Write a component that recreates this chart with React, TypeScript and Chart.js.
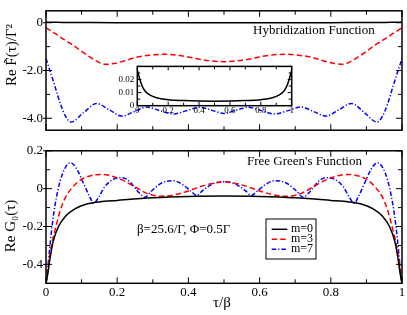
import React, { useEffect, useRef } from "react";
import { Chart, registerables } from "chart.js";

Chart.register(...registerables);

// ---------------- data ----------------
// Hybridization function, m = 0 (also shown magnified in the inset)
const hybTauM0 = [0, 0.005, 0.013, 0.028, 0.05, 0.08, 0.125, 0.2, 0.3, 0.4, 0.5, 0.6, 0.7, 0.8, 0.875, 0.92, 0.95, 0.972, 0.987, 0.995, 1];
const hybReM0 = [0.027, 0.025, 0.0215, 0.016, 0.0112, 0.0082, 0.006, 0.0046, 0.0039, 0.0035, 0.0034, 0.0035, 0.0039, 0.0046, 0.006, 0.0082, 0.0112, 0.016, 0.0215, 0.025, 0.027];

// Hybridization function, m = 3
const hybTauM3 = [0, 0.025, 0.05, 0.075, 0.1, 0.125, 0.145, 0.165, 0.19, 0.22, 0.25, 0.29, 0.33, 0.38, 0.44, 0.5, 0.56, 0.62, 0.67, 0.71, 0.75, 0.78, 0.81, 0.835, 0.855, 0.875, 0.9, 0.925, 0.95, 0.975, 1];
const hybReM3 = [-0.21, -0.45, -0.7, -0.93, -1.2, -1.45, -1.63, -1.74, -1.71, -1.6, -1.46, -1.36, -1.32, -1.38, -1.55, -1.63, -1.55, -1.38, -1.32, -1.36, -1.46, -1.6, -1.71, -1.74, -1.63, -1.45, -1.2, -0.93, -0.7, -0.45, -0.21];

// Hybridization function, m = 7
const hybTauM7 = [0, 0.012, 0.025, 0.04, 0.055, 0.07, 0.106, 0.142, 0.178, 0.213, 0.248, 0.283, 0.32, 0.358, 0.395, 0.433, 0.467, 0.5, 0.533, 0.567, 0.605, 0.642, 0.68, 0.717, 0.752, 0.787, 0.822, 0.858, 0.894, 0.93, 0.945, 0.96, 0.975, 0.988, 1];
const hybReM7 = [-1.5, -2.05, -2.65, -3.38, -3.92, -4.16, -3.76, -3.38, -3.65, -3.91, -3.72, -3.53, -3.68, -3.82, -3.68, -3.54, -3.67, -3.8, -3.67, -3.54, -3.68, -3.82, -3.68, -3.53, -3.72, -3.91, -3.65, -3.38, -3.76, -4.16, -3.92, -3.38, -2.65, -2.05, -1.5];

// Free Green's function, m = 0
const g0TauM0 = [0, 0.005, 0.012, 0.02, 0.035, 0.055, 0.08, 0.11, 0.15, 0.2, 0.3, 0.4, 0.5, 0.6, 0.7, 0.8, 0.85, 0.89, 0.92, 0.945, 0.965, 0.98, 0.988, 0.995, 1];
const g0ReM0 = [-0.5, -0.45, -0.36, -0.28, -0.2, -0.145, -0.108, -0.084, -0.07, -0.062, -0.048, -0.041, -0.039, -0.041, -0.048, -0.062, -0.07, -0.084, -0.108, -0.145, -0.2, -0.28, -0.36, -0.45, -0.5];

// Free Green's function, m = 3
const g0TauM3 = [0, 0.004, 0.009, 0.017, 0.028, 0.04, 0.055, 0.075, 0.1, 0.128, 0.155, 0.185, 0.215, 0.245, 0.28, 0.32, 0.36, 0.4, 0.45, 0.5, 0.55, 0.6, 0.64, 0.68, 0.72, 0.755, 0.785, 0.815, 0.845, 0.872, 0.9, 0.925, 0.945, 0.96, 0.972, 0.983, 0.991, 0.996, 1];
const g0ReM3 = [-0.5, -0.45, -0.37, -0.285, -0.2, -0.115, -0.045, 0.008, 0.05, 0.07, 0.075, 0.066, 0.045, 0.015, -0.022, -0.04, -0.033, -0.012, 0.02, 0.036, 0.02, -0.012, -0.033, -0.04, -0.022, 0.015, 0.045, 0.066, 0.075, 0.07, 0.05, 0.008, -0.045, -0.115, -0.2, -0.285, -0.37, -0.45, -0.5];

// Free Green's function, m = 7
const g0TauM7 = [0, 0.004, 0.009, 0.017, 0.026, 0.04, 0.054, 0.069, 0.087, 0.106, 0.122, 0.134, 0.148, 0.165, 0.19, 0.213, 0.235, 0.258, 0.278, 0.295, 0.325, 0.358, 0.385, 0.408, 0.423, 0.44, 0.47, 0.5, 0.53, 0.56, 0.577, 0.592, 0.615, 0.642, 0.675, 0.705, 0.722, 0.742, 0.765, 0.787, 0.81, 0.835, 0.852, 0.866, 0.878, 0.894, 0.913, 0.931, 0.946, 0.96, 0.974, 0.983, 0.991, 0.996, 1];
const g0ReM7 = [-0.5, -0.44, -0.34, -0.2, -0.08, 0.042, 0.11, 0.137, 0.102, 0.025, -0.04, -0.077, -0.045, 0.01, 0.05, 0.058, 0.038, -0.015, -0.045, -0.015, 0.03, 0.042, 0.02, -0.015, -0.036, -0.01, 0.026, 0.036, 0.026, -0.01, -0.036, -0.015, 0.02, 0.042, 0.03, -0.015, -0.045, -0.015, 0.038, 0.058, 0.05, 0.01, -0.045, -0.077, -0.04, 0.025, 0.102, 0.137, 0.11, 0.042, -0.08, -0.2, -0.34, -0.44, -0.5];

const seriesLabels = ["m=0", "m=3", "m=7"];

// ticks
const xTickValues = [0, 0.1, 0.2, 0.3, 0.4, 0.5, 0.6, 0.7, 0.8, 0.9, 1];
const xLabelValues = [0, 0.2, 0.4, 0.6, 0.8, 1];
const xLabelTexts = ["0", "0.2", "0.4", "0.6", "0.8", "1"];
const hybYTickValues = [-4, -3, -2, -1, 0];
const hybYLabelValues = [0, -2, -4];
const hybYLabelTexts = ["0", "-2.0", "-4.0"];
const g0YTickValues = [-0.4, -0.3, -0.2, -0.1, 0, 0.1, 0.2];
const g0YLabelValues = [0.2, 0, -0.2, -0.4];
const g0YLabelTexts = ["0.2", "0", "-0.2", "-0.4"];
const insetYTickValues = [0, 0.005, 0.01, 0.015, 0.02, 0.025, 0.03];
const insetYLabelValues = [0, 0.01, 0.02];
const insetYLabelTexts = ["0", "0.01", "0.02"];

// ---------------- helpers ----------------
const FONT = "'Liberation Serif', 'DejaVu Serif', serif";
Chart.defaults.font.family = FONT;
Chart.defaults.color = "#000";

const pts = (xs: number[], ys: number[]) => xs.map((x, i) => ({ x, y: ys[i] }));
const near = (a: number, b: number) => Math.abs(a - b) < 1e-9;
const labelFor = (vals: number[], texts: string[]) => (v: any) => {
  const i = vals.findIndex((a) => near(a, Number(v)));
  return i >= 0 ? texts[i] : "";
};

const RED_DASH = [5.5, 3];
const BLUE_DASH = [4.5, 2, 1.2, 2];

function lineDs(label: string, data: { x: number; y: number }[], color: string, dash: number[]) {
  return {
    label,
    data,
    borderColor: color,
    backgroundColor: color,
    borderWidth: 1.5,
    borderDash: dash,
    pointRadius: 0,
    fill: false,
    cubicInterpolationMode: "monotone" as const,
  };
}

const framePlugin = {
  id: "frame",
  beforeDatasetsDraw(chart: any, _a: any, opts: any) {
    if (!opts || !opts.whiteBg) return;
    const { ctx, chartArea: a } = chart;
    ctx.save();
    ctx.fillStyle = "#fff";
    ctx.fillRect(a.left, a.top, a.right - a.left, a.bottom - a.top);
    ctx.restore();
  },
  afterDatasetsDraw(chart: any, _a: any, opts: any) {
    if (!opts || !opts.enabled) return;
    const { ctx, chartArea: a } = chart;
    const xs = chart.scales.x;
    const ys = chart.scales.y;
    ctx.save();
    ctx.strokeStyle = "#000";
    ctx.lineWidth = opts.tickWidth;
    ctx.setLineDash([]);
    ctx.beginPath();
    xs.ticks.forEach((t: any) => {
      const p = xs.getPixelForValue(t.value);
      const major = opts.xMajor.some((v: number) => near(v, t.value));
      const len = major ? opts.majorLen : opts.minorLen;
      ctx.moveTo(p, a.bottom);
      ctx.lineTo(p, a.bottom - len);
      ctx.moveTo(p, a.top);
      ctx.lineTo(p, a.top + len);
    });
    ys.ticks.forEach((t: any) => {
      const p = ys.getPixelForValue(t.value);
      const major = opts.yMajor.some((v: number) => near(v, t.value));
      const len = major ? opts.majorLen : opts.minorLen;
      ctx.moveTo(a.left - (major ? opts.outLen : 0), p);
      ctx.lineTo(a.left + len, p);
      ctx.moveTo(a.right, p);
      ctx.lineTo(a.right - len, p);
    });
    ctx.stroke();
    ctx.lineWidth = opts.borderWidth;
    ctx.strokeRect(a.left, a.top, a.right - a.left, a.bottom - a.top);

    // free texts
    (opts.texts || []).forEach((t: any) => {
      ctx.save();
      ctx.font = t.font;
      ctx.fillStyle = "#000";
      ctx.textAlign = t.align || "left";
      ctx.textBaseline = "middle";
      ctx.translate(t.x, t.y);
      if (t.rotate) ctx.rotate(-Math.PI / 2);
      ctx.fillText(t.text, 0, 0);
      ctx.restore();
    });

    // legend
    const lg = opts.legend;
    if (lg) {
      ctx.lineWidth = 1;
      ctx.strokeStyle = "#000";
      ctx.strokeRect(lg.x, lg.y, lg.w, lg.h);
      chart.data.datasets.forEach((ds: any, i: number) => {
        const y = lg.y + lg.firstRow + i * lg.rowH;
        ctx.save();
        ctx.strokeStyle = ds.borderColor;
        ctx.lineWidth = ds.borderWidth;
        ctx.setLineDash(ds.borderDash || []);
        ctx.beginPath();
        ctx.moveTo(lg.x + lg.lineX0, y);
        ctx.lineTo(lg.x + lg.lineX1, y);
        ctx.stroke();
        ctx.restore();
        ctx.font = lg.font;
        ctx.fillStyle = "#000";
        ctx.textAlign = "left";
        ctx.textBaseline = "middle";
        ctx.fillText(ds.label, lg.x + lg.textX, y);
      });
    }
    ctx.restore();
  },
};

function xScale(showLabels: boolean, size: number, padding: number, height: number) {
  return {
    type: "linear" as const,
    min: 0,
    max: 1,
    afterBuildTicks: (s: any) => {
      s.ticks = xTickValues.map((v) => ({ value: v }));
    },
    afterFit: (s: any) => {
      s.height = height;
    },
    grid: { display: false, drawTicks: false },
    border: { display: false },
    ticks: {
      display: showLabels,
      autoSkip: false,
      maxRotation: 0,
      padding,
      color: "#000",
      font: { size, family: FONT },
      callback: labelFor(xLabelValues, xLabelTexts),
    },
  };
}

function yScale(min: number, max: number, tickVals: number[], labVals: number[], labTexts: string[], size: number, padding: number, width: number) {
  return {
    type: "linear" as const,
    min,
    max,
    afterBuildTicks: (s: any) => {
      s.ticks = tickVals.map((v) => ({ value: v }));
    },
    afterFit: (s: any) => {
      s.width = width;
    },
    grid: { display: false, drawTicks: false },
    border: { display: false },
    ticks: {
      autoSkip: false,
      padding,
      color: "#000",
      font: { size, family: FONT },
      callback: labelFor(labVals, labTexts),
    },
  };
}

const baseOpts = {
  responsive: false,
  maintainAspectRatio: false,
  animation: false as const,
  devicePixelRatio: 1,
  events: [] as any[],
};

export default function App() {
  const topRef = useRef<HTMLCanvasElement>(null);
  const botRef = useRef<HTMLCanvasElement>(null);
  const insRef = useRef<HTMLCanvasElement>(null);

  useEffect(() => {
    document.body.style.margin = "0";
    const charts: Chart[] = [];

    // ---------- top panel: hybridization function ----------
    charts.push(
      new Chart(topRef.current as HTMLCanvasElement, {
        type: "line",
        data: {
          datasets: [
            lineDs(seriesLabels[0], pts(hybTauM0, hybReM0), "#000000", []),
            lineDs(seriesLabels[1], pts(hybTauM3, hybReM3), "#ff0000", RED_DASH),
            lineDs(seriesLabels[2], pts(hybTauM7, hybReM7), "#0000ff", BLUE_DASH),
          ] as any,
        },
        options: {
          ...baseOpts,
          layout: { padding: { left: 0, right: 5, top: 6, bottom: 0 } },
          scales: {
            x: xScale(false, 13, 3, 2),
            y: yScale(-4.5, 0.5, hybYTickValues, hybYLabelValues, hybYLabelTexts, 13, 3, 46),
          } as any,
          plugins: {
            legend: { display: false },
            tooltip: { enabled: false },
            frame: {
              enabled: true,
              tickWidth: 1,
              borderWidth: 1.5,
              majorLen: 6,
              minorLen: 4,
              outLen: 3,
              xMajor: xLabelValues,
              yMajor: hybYLabelValues,
              texts: [
                { text: "Hybridization Function", x: 253, y: 31, font: `13px ${FONT}` },
                { text: "Re F\u0303(\u03c4)/\u0393\u00b2", x: 12.5, y: 55, font: `15px ${FONT}`, align: "center", rotate: true },
              ],
            },
          } as any,
        },
        plugins: [framePlugin],
      })
    );

    // ---------- bottom panel: free Green's function ----------
    charts.push(
      new Chart(botRef.current as HTMLCanvasElement, {
        type: "line",
        data: {
          datasets: [
            lineDs(seriesLabels[0], pts(g0TauM0, g0ReM0), "#000000", []),
            lineDs(seriesLabels[1], pts(g0TauM3, g0ReM3), "#ff0000", RED_DASH),
            lineDs(seriesLabels[2], pts(g0TauM7, g0ReM7), "#0000ff", BLUE_DASH),
          ] as any,
        },
        options: {
          ...baseOpts,
          layout: { padding: { left: 0, right: 5, top: 7.5, bottom: 0 } },
          scales: {
            x: xScale(true, 13, 1, 31.7),
            y: yScale(-0.5, 0.2, g0YTickValues, g0YLabelValues, g0YLabelTexts, 13, 3, 46),
          } as any,
          plugins: {
            legend: { display: false },
            tooltip: { enabled: false },
            frame: {
              enabled: true,
              tickWidth: 1,
              borderWidth: 1.5,
              majorLen: 6,
              minorLen: 4,
              outLen: 3,
              xMajor: xLabelValues,
              yMajor: g0YLabelValues,
              texts: [
                { text: "Free Green's Function", x: 247, y: 22, font: `13px ${FONT}` },
                { text: "\u03b2=25.6/\u0393, \u03a6=0.5\u0393", x: 137, y: 89.3, font: `13px ${FONT}` },
                { text: "Re G\u2080(\u03c4)", x: 11, y: 86, font: `15px ${FONT}`, align: "center", rotate: true },
                { text: "\u03c4/\u03b2", x: 222, y: 163.3, font: `15px ${FONT}`, align: "center" },
              ],
              legend: {
                x: 266,
                y: 79,
                w: 50,
                h: 40,
                firstRow: 10.3,
                rowH: 10,
                lineX0: 5.7,
                lineX1: 21.3,
                textX: 25,
                font: `12px ${FONT}`,
              },
            },
          } as any,
        },
        plugins: [framePlugin],
      })
    );

    // ---------- inset: m=0 hybridization function magnified ----------
    charts.push(
      new Chart(insRef.current as HTMLCanvasElement, {
        type: "line",
        data: {
          datasets: [lineDs(seriesLabels[0], pts(hybTauM0, hybReM0), "#000000", [])] as any,
        },
        options: {
          ...baseOpts,
          layout: { padding: { left: 0, right: 8.3, top: 6.3, bottom: 0 } },
          scales: {
            x: xScale(true, 9, 0, 14.3),
            y: yScale(0, 0.03, insetYTickValues, insetYLabelValues, insetYLabelTexts, 9, 3, 37.3),
          } as any,
          plugins: {
            legend: { display: false },
            tooltip: { enabled: false },
            frame: {
              enabled: true,
              whiteBg: true,
              tickWidth: 1,
              borderWidth: 1.5,
              majorLen: 4,
              minorLen: 3,
              outLen: 0,
              xMajor: xLabelValues,
              yMajor: insetYLabelValues,
              texts: [],
            },
          } as any,
        },
        plugins: [framePlugin],
      })
    );

    return () => charts.forEach((c) => c.destroy());
  }, []);

  return (
    <div style={{ position: "fixed", left: 0, top: 0, width: 407, height: 315, background: "#fff" }}>
      <canvas ref={topRef} width={407} height={141} style={{ position: "absolute", left: 0, top: 0, width: 407, height: 141 }} />
      <canvas ref={botRef} width={407} height={175} style={{ position: "absolute", left: 0, top: 140, width: 407, height: 175 }} />
      <canvas ref={insRef} width={200} height={62} style={{ position: "absolute", left: 100, top: 58, width: 200, height: 62 }} />
    </div>
  );
}
